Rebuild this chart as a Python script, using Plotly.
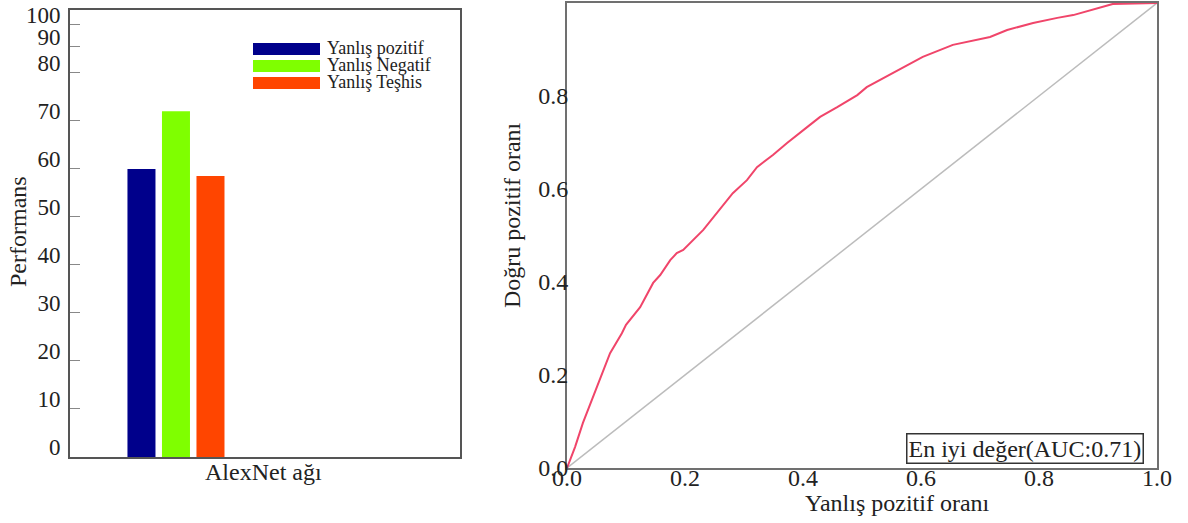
import plotly.graph_objects as go

# ---------------- data ----------------
categories = ["AlexNet ağı"]
series_names = ["Yanlış pozitif", "Yanlış Negatif", "Yanlış Teşhis"]
series_values = [60, 72, 58.5]
bar_colors = ["#00008b", "#7fff00", "#ff4500"]

perf_tick_vals = [0, 10, 20, 30, 40, 50, 60, 70, 80, 85.4, 90]
perf_tick_text = ["0", "10", "20", "30", "40", "50", "60", "70", "80", "90", "100"]

roc_fpr = [0.0, 0.0136, 0.027, 0.042, 0.059, 0.073, 0.093, 0.100, 0.124, 0.146,
           0.158, 0.175, 0.186, 0.197, 0.231, 0.259, 0.281, 0.305, 0.322, 0.349,
           0.373, 0.407, 0.429, 0.458, 0.492, 0.508, 0.547, 0.603, 0.654, 0.717,
           0.746, 0.790, 0.831, 0.858, 0.925, 1.0]
roc_tpr = [0.0, 0.045, 0.097, 0.146, 0.204, 0.247, 0.290, 0.308, 0.346, 0.398,
           0.415, 0.447, 0.462, 0.469, 0.512, 0.555, 0.591, 0.619, 0.647, 0.673,
           0.699, 0.733, 0.755, 0.776, 0.802, 0.819, 0.845, 0.884, 0.910, 0.927,
           0.942, 0.957, 0.968, 0.974, 0.998, 1.0]
diag = [0.0, 1.0]
roc_ticks = [0.0, 0.2, 0.4, 0.6, 0.8, 1.0]
auc_label = "En iyi değer(AUC:0.71)"

# ---------------- figure ----------------
W, H = 1188, 523
FONT = "Liberation Serif"
TXT = "#222222"

def px(x):
    return x / W

def py(y):
    return 1 - y / H

fig = go.Figure()

for name, val, col in zip(series_names, series_values, bar_colors):
    fig.add_trace(go.Bar(x=categories, y=[val], name=name, marker_color=col,
                         marker_line_width=0, xaxis="x", yaxis="y", showlegend=False))

fig.add_trace(go.Scatter(x=diag, y=diag, mode="lines", line=dict(color="#bcbcbc", width=1.5),
                         xaxis="x2", yaxis="y2", showlegend=False))
fig.add_trace(go.Scatter(x=roc_fpr, y=roc_tpr, mode="lines", line=dict(color="#f0456a", width=2),
                         xaxis="x2", yaxis="y2", showlegend=False))

fig.update_layout(
    width=W, height=H, autosize=False,
    margin=dict(l=0, r=0, t=0, b=0, pad=0),
    paper_bgcolor="white", plot_bgcolor="white",
    font=dict(family=FONT, color=TXT, size=22),
    barmode="group", bargap=0.2, bargroupgap=0.188,
    xaxis=dict(domain=[px(70), px(460)], type="category", range=[-0.819, 2.195],
               automargin=False,
               showticklabels=False, ticks="", showgrid=False, zeroline=False,
               showline=True, linecolor="#555555", linewidth=2, mirror=True),
    yaxis=dict(domain=[py(457), py(10)], range=[0, 93.1], automargin=False,
               tickvals=perf_tick_vals, ticktext=perf_tick_text,
               ticks="inside", ticklen=10, tickcolor="#888888", tickwidth=1,
               ticklabelstandoff=3, ticklabelshift=-10,
               tickfont=dict(size=23, family=FONT, color=TXT),
               showgrid=False, zeroline=False,
               showline=True, linecolor="#555555", linewidth=2, mirror=True),
    xaxis2=dict(domain=[px(567), px(1157)], range=[0, 1], anchor="y2", automargin=False,
                tickvals=roc_ticks, ticktext=[f"{v:.1f}" for v in roc_ticks],
                ticks="", ticklabelstandoff=-13,
                tickfont=dict(size=24, family=FONT, color=TXT),
                showgrid=False, zeroline=False,
                showline=True, linecolor="#707070", linewidth=2, mirror=True),
    yaxis2=dict(domain=[py(468), py(3)], range=[0, 1], anchor="x2", automargin=False,
                tickvals=roc_ticks, ticktext=[f"{v:.1f}" for v in roc_ticks],
                ticks="", ticklabelstandoff=-8,
                tickfont=dict(size=24, family=FONT, color=TXT),
                showgrid=False, zeroline=False,
                showline=True, linecolor="#707070", linewidth=2, mirror=True),
)

# legend drawn manually (wide swatches like the reference)
row_tops = [43, 60, 77]
shapes = []
annotations = []
for name, col, top in zip(series_names, bar_colors, row_tops):
    shapes.append(dict(type="rect", xref="paper", yref="paper",
                       x0=px(253), x1=px(320), y0=py(top + 12), y1=py(top),
                       fillcolor=col, line=dict(width=0)))
    annotations.append(dict(x=px(325), y=py(top + 5), xref="paper", yref="paper",
                            text=name, showarrow=False, xanchor="left", yanchor="middle",
                            font=dict(size=18, family=FONT, color=TXT)))

annotations += [
    dict(x=px(263), y=py(472), xref="paper", yref="paper", text=categories[0],
         showarrow=False, xanchor="center", yanchor="middle", font=dict(size=24, family=FONT, color=TXT)),
    dict(x=px(18), y=py(232), xref="paper", yref="paper", text="Performans", textangle=-90,
         showarrow=False, xanchor="center", yanchor="middle", font=dict(size=24, family=FONT, color=TXT)),
    dict(x=px(898), y=py(503), xref="paper", yref="paper", text="Yanlış pozitif oranı",
         showarrow=False, xanchor="center", yanchor="middle", font=dict(size=24, family=FONT, color=TXT)),
    dict(x=px(512), y=py(215), xref="paper", yref="paper", text="Doğru pozitif oranı", textangle=-90,
         showarrow=False, xanchor="center", yanchor="middle", font=dict(size=24, family=FONT, color=TXT)),
    dict(x=px(1024.5), y=py(448), xref="paper", yref="paper", text=auc_label,
         showarrow=False, xanchor="center", yanchor="middle", bgcolor="white",
         bordercolor="#333333", borderwidth=1.5, borderpad=1,
         font=dict(size=24, family=FONT, color=TXT)),
]

fig.update_layout(shapes=shapes, annotations=annotations)

fig.write_html("out.html")
